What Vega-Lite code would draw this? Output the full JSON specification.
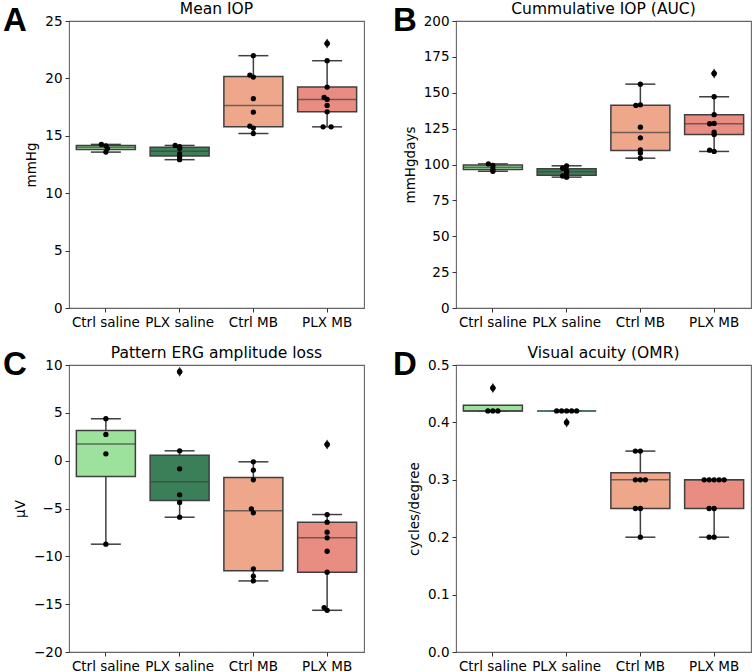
{
  "$schema": "https://vega.github.io/schema/vega-lite/v6.json",
  "padding": {"left": 3, "top": 0, "right": 5, "bottom": 0},
  "background": "white",
  "spacing": 14,
  "config": {
    "view": {"stroke": "#666", "strokeWidth": 1.1},
    "font": "DejaVu Sans",
    "title": {"font": "DejaVu Sans", "fontSize": 15.5, "fontWeight": "normal", "color": "#000", "offset": -3},
    "axis": {"labelFont": "DejaVu Sans", "labelFontSize": 13.5, "labelColor": "#000", "titleFont": "DejaVu Sans", "titleFontSize": 13.5, "titleFontWeight": "normal", "titleColor": "#000", "tickColor": "#333", "tickSize": 4, "grid": false, "domain": false, "labelPadding": 3, "titlePadding": 6},
    "axisX": {"labelAngle": 0},
    "concat": {"spacing": 28}
  },
  "datasets": {
    "iop": [
      {"group": "Ctrl saline", "v": 14.25, "k": -0.9},
      {"group": "Ctrl saline", "v": 14.13, "k": 0},
      {"group": "Ctrl saline", "v": 13.89, "k": 0.3},
      {"group": "Ctrl saline", "v": 13.58, "k": 0},
      {"group": "PLX saline", "v": 14.16, "k": -0.9},
      {"group": "PLX saline", "v": 14.05, "k": 0},
      {"group": "PLX saline", "v": 13.9, "k": 0},
      {"group": "PLX saline", "v": 13.42, "k": 0},
      {"group": "PLX saline", "v": 13.18, "k": 0},
      {"group": "PLX saline", "v": 12.92, "k": 0},
      {"group": "Ctrl MB", "v": 21.98, "k": 0},
      {"group": "Ctrl MB", "v": 20.29, "k": -0.7},
      {"group": "Ctrl MB", "v": 20.12, "k": 0},
      {"group": "Ctrl MB", "v": 18.23, "k": 0},
      {"group": "Ctrl MB", "v": 17.06, "k": 0},
      {"group": "Ctrl MB", "v": 15.84, "k": -0.7},
      {"group": "Ctrl MB", "v": 15.67, "k": 0},
      {"group": "Ctrl MB", "v": 15.2, "k": 0},
      {"group": "PLX MB", "v": 23.05, "k": 0},
      {"group": "PLX MB", "v": 21.54, "k": 0},
      {"group": "PLX MB", "v": 19.24, "k": 0},
      {"group": "PLX MB", "v": 18.34, "k": -0.6},
      {"group": "PLX MB", "v": 18.17, "k": 0},
      {"group": "PLX MB", "v": 17.65, "k": 0},
      {"group": "PLX MB", "v": 17.09, "k": 0},
      {"group": "PLX MB", "v": 15.78, "k": -0.8},
      {"group": "PLX MB", "v": 15.78, "k": 0.8}
    ],
    "auc": [
      {"group": "Ctrl saline", "v": 100.4, "k": -0.9},
      {"group": "Ctrl saline", "v": 99.3, "k": 0},
      {"group": "Ctrl saline", "v": 96.9, "k": 0},
      {"group": "Ctrl saline", "v": 95.3, "k": 0},
      {"group": "PLX saline", "v": 99.1, "k": 0},
      {"group": "PLX saline", "v": 97.4, "k": -0.8},
      {"group": "PLX saline", "v": 95.8, "k": 0},
      {"group": "PLX saline", "v": 94.0, "k": 0},
      {"group": "PLX saline", "v": 92.0, "k": -0.8},
      {"group": "PLX saline", "v": 91.2, "k": 0},
      {"group": "Ctrl MB", "v": 156.0, "k": 0},
      {"group": "Ctrl MB", "v": 141.6, "k": 0},
      {"group": "Ctrl MB", "v": 141.2, "k": -0.9},
      {"group": "Ctrl MB", "v": 126.0, "k": 0},
      {"group": "Ctrl MB", "v": 118.6, "k": 0},
      {"group": "Ctrl MB", "v": 110.2, "k": 0},
      {"group": "Ctrl MB", "v": 108.1, "k": 0},
      {"group": "Ctrl MB", "v": 104.4, "k": 0},
      {"group": "PLX MB", "v": 163.5, "k": 0},
      {"group": "PLX MB", "v": 147.2, "k": 0},
      {"group": "PLX MB", "v": 134.7, "k": 0},
      {"group": "PLX MB", "v": 128.6, "k": 0},
      {"group": "PLX MB", "v": 128.4, "k": -0.9},
      {"group": "PLX MB", "v": 122.6, "k": 0},
      {"group": "PLX MB", "v": 120.9, "k": 0},
      {"group": "PLX MB", "v": 110.0, "k": -0.9},
      {"group": "PLX MB", "v": 109.1, "k": 0}
    ],
    "erg": [
      {"group": "Ctrl saline", "v": 4.38, "k": 0},
      {"group": "Ctrl saline", "v": 2.74, "k": 0},
      {"group": "Ctrl saline", "v": 0.72, "k": 0},
      {"group": "Ctrl saline", "v": -8.73, "k": 0},
      {"group": "PLX saline", "v": 9.3, "k": 0},
      {"group": "PLX saline", "v": 1.03, "k": 0},
      {"group": "PLX saline", "v": -0.85, "k": 0},
      {"group": "PLX saline", "v": -3.57, "k": 0},
      {"group": "PLX saline", "v": -4.37, "k": 0},
      {"group": "PLX saline", "v": -5.91, "k": 0},
      {"group": "Ctrl MB", "v": -0.12, "k": 0},
      {"group": "Ctrl MB", "v": -0.99, "k": 0},
      {"group": "Ctrl MB", "v": -2.0, "k": 0},
      {"group": "Ctrl MB", "v": -5.03, "k": -0.4},
      {"group": "Ctrl MB", "v": -5.45, "k": 0},
      {"group": "Ctrl MB", "v": -11.31, "k": 0},
      {"group": "Ctrl MB", "v": -12.08, "k": 0},
      {"group": "Ctrl MB", "v": -12.57, "k": 0},
      {"group": "PLX MB", "v": 1.7, "k": 0},
      {"group": "PLX MB", "v": -5.63, "k": 0},
      {"group": "PLX MB", "v": -6.43, "k": 0},
      {"group": "PLX MB", "v": -7.48, "k": 0},
      {"group": "PLX MB", "v": -8.07, "k": 0},
      {"group": "PLX MB", "v": -9.47, "k": 0},
      {"group": "PLX MB", "v": -11.66, "k": 0},
      {"group": "PLX MB", "v": -15.36, "k": -0.6},
      {"group": "PLX MB", "v": -15.64, "k": 0}
    ],
    "omr": [
      {"group": "Ctrl saline", "v": 0.46, "k": 0},
      {"group": "Ctrl saline", "v": 0.42, "k": -1},
      {"group": "Ctrl saline", "v": 0.42, "k": 0},
      {"group": "Ctrl saline", "v": 0.42, "k": 1},
      {"group": "PLX saline", "v": 0.42, "k": -2},
      {"group": "PLX saline", "v": 0.42, "k": -1},
      {"group": "PLX saline", "v": 0.42, "k": 0},
      {"group": "PLX saline", "v": 0.42, "k": 1},
      {"group": "PLX saline", "v": 0.42, "k": 2},
      {"group": "PLX saline", "v": 0.40, "k": 0},
      {"group": "Ctrl MB", "v": 0.35, "k": -1},
      {"group": "Ctrl MB", "v": 0.35, "k": 0},
      {"group": "Ctrl MB", "v": 0.30, "k": -1},
      {"group": "Ctrl MB", "v": 0.30, "k": 0},
      {"group": "Ctrl MB", "v": 0.30, "k": 1},
      {"group": "Ctrl MB", "v": 0.25, "k": -1},
      {"group": "Ctrl MB", "v": 0.25, "k": 0},
      {"group": "Ctrl MB", "v": 0.20, "k": 0},
      {"group": "PLX MB", "v": 0.30, "k": -2},
      {"group": "PLX MB", "v": 0.30, "k": -1},
      {"group": "PLX MB", "v": 0.30, "k": 0},
      {"group": "PLX MB", "v": 0.30, "k": 1},
      {"group": "PLX MB", "v": 0.30, "k": 2},
      {"group": "PLX MB", "v": 0.25, "k": -1},
      {"group": "PLX MB", "v": 0.25, "k": 0},
      {"group": "PLX MB", "v": 0.20, "k": -1},
      {"group": "PLX MB", "v": 0.20, "k": 0}
    ]
  },
  "vconcat": [
    {
      "hconcat": [
        {
          "title": {"text": "A", "anchor": "start", "frame": "group", "font": "Liberation Sans", "fontSize": 33, "fontWeight": "bold", "dx": -66, "dy": 34},
          "vconcat": [
            {
              "width": 295, "height": 287,
              "title": "Mean IOP",
              "data": {"name": "iop"},
              "encoding": {
                "x": {"field": "group", "type": "nominal", "sort": ["Ctrl saline", "PLX saline", "Ctrl MB", "PLX MB"], "scale": {"paddingInner": 0, "paddingOuter": 0}, "title": null},
                "y": {"field": "v", "type": "quantitative", "scale": {"domain": [0, 25], "nice": false, "zero": false}, "axis": {"values": [0, 5, 10, 15, 20, 25]}, "title": "mmHg"}
              },
              "layer": [
                {
                  "mark": {"type": "boxplot", "extent": 1.5, "size": 59, "box": {"stroke": "#3f3f3f", "strokeWidth": 1.5}, "median": {"color": "#3f3f3f", "thickness": 1.5}, "rule": {"color": "#3f3f3f", "strokeWidth": 1.5}, "ticks": {"color": "#3f3f3f", "size": 30, "thickness": 1.5}, "outliers": false},
                  "encoding": {"color": {"field": "group", "type": "nominal", "scale": {"domain": ["Ctrl saline", "PLX saline", "Ctrl MB", "PLX MB"], "range": ["#9ce29c", "#3a7f58", "#eea78b", "#e98d83"]}, "legend": null}}
                },
                {
                  "mark": {"type": "boxplot", "extent": 1.5, "size": 59, "box": {"opacity": 0, "strokeOpacity": 0}, "median": {"opacity": 0}, "rule": {"opacity": 0}, "ticks": false, "outliers": {"shape": "M0,-1L0.6,0L0,1L-0.6,0Z", "size": 100, "filled": true, "color": "#222", "opacity": 1}}
                },
                {
                  "mark": {"type": "point", "filled": true, "color": "#000", "size": 28, "opacity": 1},
                  "encoding": {"xOffset": {"field": "k", "type": "quantitative", "scale": {"domain": [-3, 3], "range": [21.875, 51.875]}}}
                }
              ]
            }
          ]
        },
        {
          "title": {"text": "B", "anchor": "start", "frame": "group", "font": "Liberation Sans", "fontSize": 33, "fontWeight": "bold", "dx": -63, "dy": 34},
          "vconcat": [
            {
              "width": 295, "height": 287,
              "title": "Cummulative IOP (AUC)",
              "data": {"name": "auc"},
              "encoding": {
                "x": {"field": "group", "type": "nominal", "sort": ["Ctrl saline", "PLX saline", "Ctrl MB", "PLX MB"], "scale": {"paddingInner": 0, "paddingOuter": 0}, "title": null},
                "y": {"field": "v", "type": "quantitative", "scale": {"domain": [0, 200], "nice": false, "zero": false}, "axis": {"values": [0, 25, 50, 75, 100, 125, 150, 175, 200]}, "title": "mmHgdays"}
              },
              "layer": [
                {
                  "mark": {"type": "boxplot", "extent": 1.5, "size": 59, "box": {"stroke": "#3f3f3f", "strokeWidth": 1.5}, "median": {"color": "#3f3f3f", "thickness": 1.5}, "rule": {"color": "#3f3f3f", "strokeWidth": 1.5}, "ticks": {"color": "#3f3f3f", "size": 30, "thickness": 1.5}, "outliers": false},
                  "encoding": {"color": {"field": "group", "type": "nominal", "scale": {"domain": ["Ctrl saline", "PLX saline", "Ctrl MB", "PLX MB"], "range": ["#9ce29c", "#3a7f58", "#eea78b", "#e98d83"]}, "legend": null}}
                },
                {
                  "mark": {"type": "boxplot", "extent": 1.5, "size": 59, "box": {"opacity": 0, "strokeOpacity": 0}, "median": {"opacity": 0}, "rule": {"opacity": 0}, "ticks": false, "outliers": {"shape": "M0,-1L0.6,0L0,1L-0.6,0Z", "size": 100, "filled": true, "color": "#222", "opacity": 1}}
                },
                {
                  "mark": {"type": "point", "filled": true, "color": "#000", "size": 28, "opacity": 1},
                  "encoding": {"xOffset": {"field": "k", "type": "quantitative", "scale": {"domain": [-3, 3], "range": [21.875, 51.875]}}}
                }
              ]
            }
          ]
        }
      ]
    },
    {
      "hconcat": [
        {
          "title": {"text": "C", "anchor": "start", "frame": "group", "font": "Liberation Sans", "fontSize": 33, "fontWeight": "bold", "dx": -66, "dy": 34},
          "vconcat": [
            {
              "width": 295, "height": 287,
              "title": "Pattern ERG amplitude loss",
              "data": {"name": "erg"},
              "encoding": {
                "x": {"field": "group", "type": "nominal", "sort": ["Ctrl saline", "PLX saline", "Ctrl MB", "PLX MB"], "scale": {"paddingInner": 0, "paddingOuter": 0}, "title": null},
                "y": {"field": "v", "type": "quantitative", "scale": {"domain": [-20, 10], "nice": false, "zero": false}, "axis": {"values": [-20, -15, -10, -5, 0, 5, 10]}, "title": "μV"}
              },
              "layer": [
                {
                  "mark": {"type": "boxplot", "extent": 1.5, "size": 59, "box": {"stroke": "#3f3f3f", "strokeWidth": 1.5}, "median": {"color": "#3f3f3f", "thickness": 1.5}, "rule": {"color": "#3f3f3f", "strokeWidth": 1.5}, "ticks": {"color": "#3f3f3f", "size": 30, "thickness": 1.5}, "outliers": false},
                  "encoding": {"color": {"field": "group", "type": "nominal", "scale": {"domain": ["Ctrl saline", "PLX saline", "Ctrl MB", "PLX MB"], "range": ["#9ce29c", "#3a7f58", "#eea78b", "#e98d83"]}, "legend": null}}
                },
                {
                  "mark": {"type": "boxplot", "extent": 1.5, "size": 59, "box": {"opacity": 0, "strokeOpacity": 0}, "median": {"opacity": 0}, "rule": {"opacity": 0}, "ticks": false, "outliers": {"shape": "M0,-1L0.6,0L0,1L-0.6,0Z", "size": 100, "filled": true, "color": "#222", "opacity": 1}}
                },
                {
                  "mark": {"type": "point", "filled": true, "color": "#000", "size": 28, "opacity": 1},
                  "encoding": {"xOffset": {"field": "k", "type": "quantitative", "scale": {"domain": [-3, 3], "range": [21.875, 51.875]}}}
                }
              ]
            }
          ]
        },
        {
          "title": {"text": "D", "anchor": "start", "frame": "group", "font": "Liberation Sans", "fontSize": 33, "fontWeight": "bold", "dx": -63, "dy": 34},
          "vconcat": [
            {
              "width": 295, "height": 287,
              "title": "Visual acuity (OMR)",
              "data": {"name": "omr"},
              "encoding": {
                "x": {"field": "group", "type": "nominal", "sort": ["Ctrl saline", "PLX saline", "Ctrl MB", "PLX MB"], "scale": {"paddingInner": 0, "paddingOuter": 0}, "title": null},
                "y": {"field": "v", "type": "quantitative", "scale": {"domain": [0, 0.5], "nice": false, "zero": false}, "axis": {"values": [0, 0.1, 0.2, 0.3, 0.4, 0.5], "format": ".1f"}, "title": "cycles/degree"}
              },
              "layer": [
                {
                  "mark": {"type": "boxplot", "extent": 1.5, "size": 59, "box": {"stroke": "#3f3f3f", "strokeWidth": 1.5}, "median": {"color": "#3f3f3f", "thickness": 1.5}, "rule": {"color": "#3f3f3f", "strokeWidth": 1.5}, "ticks": {"color": "#3f3f3f", "size": 30, "thickness": 1.5}, "outliers": false},
                  "encoding": {"color": {"field": "group", "type": "nominal", "scale": {"domain": ["Ctrl saline", "PLX saline", "Ctrl MB", "PLX MB"], "range": ["#9ce29c", "#3a7f58", "#eea78b", "#e98d83"]}, "legend": null}}
                },
                {
                  "mark": {"type": "boxplot", "extent": 1.5, "size": 59, "box": {"opacity": 0, "strokeOpacity": 0}, "median": {"opacity": 0}, "rule": {"opacity": 0}, "ticks": false, "outliers": {"shape": "M0,-1L0.6,0L0,1L-0.6,0Z", "size": 100, "filled": true, "color": "#222", "opacity": 1}}
                },
                {
                  "mark": {"type": "point", "filled": true, "color": "#000", "size": 28, "opacity": 1},
                  "encoding": {"xOffset": {"field": "k", "type": "quantitative", "scale": {"domain": [-3, 3], "range": [21.875, 51.875]}}}
                }
              ]
            }
          ]
        }
      ]
    }
  ]
}
